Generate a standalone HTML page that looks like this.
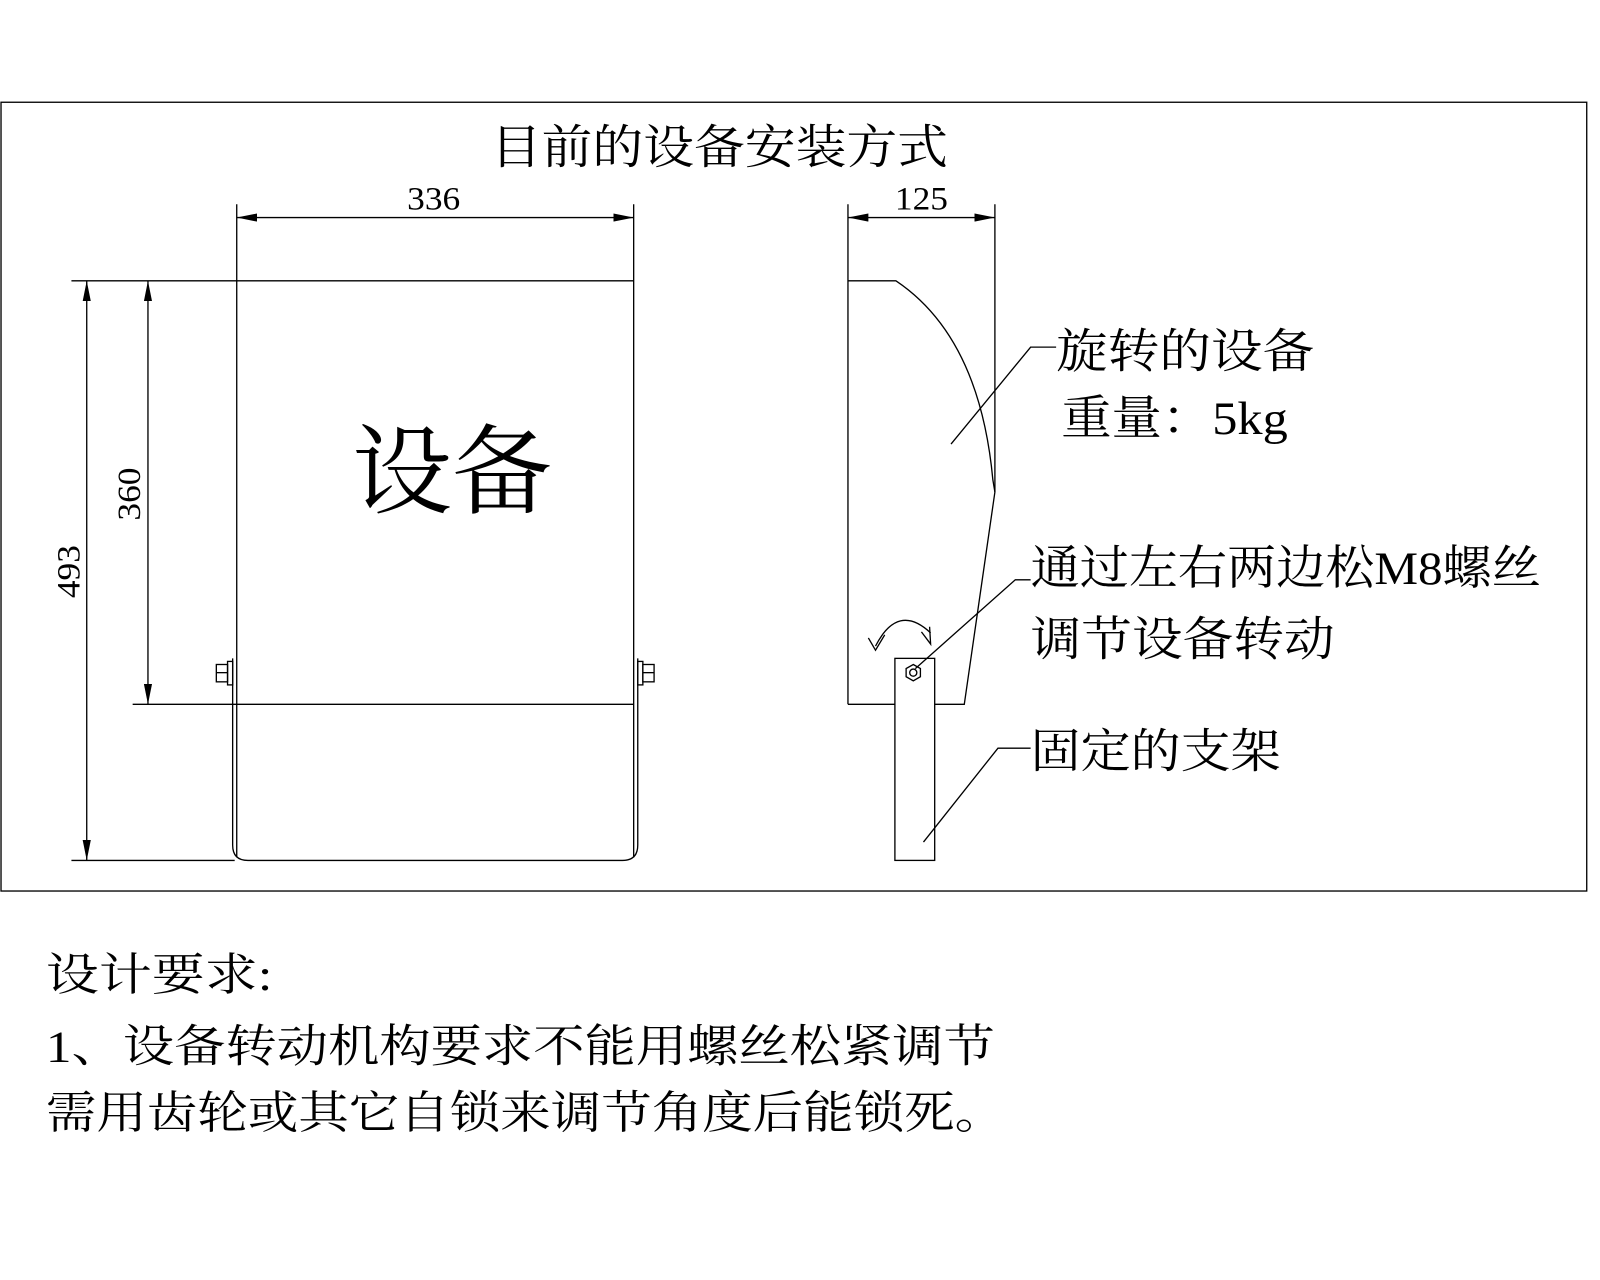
<!DOCTYPE html>
<html><head><meta charset="utf-8"><style>
html,body{margin:0;padding:0;background:#fff;}
svg{display:block;}
text{font-family:"Liberation Serif","Noto Serif CJK SC",serif;fill:#000;}
</style></head><body>
<svg width="1600" height="1280" viewBox="0 0 1568 1254" xmlns="http://www.w3.org/2000/svg">
<defs>
<marker id="a" viewBox="0 0 20 8" refX="20" refY="4" markerWidth="20" markerHeight="8" markerUnits="userSpaceOnUse" orient="auto-start-reverse"><path d="M0,0 L20,4 L0,8 z" fill="#000"/></marker>
</defs>
<g fill="none" stroke="#000" stroke-width="1.3">
<rect x="1" y="100" width="1554" height="773"/>
<!-- front view -->
<line x1="70" y1="275" x2="621" y2="275"/>
<line x1="232" y1="200" x2="232" y2="840"/>
<line x1="621" y1="200" x2="621" y2="840"/>
<path d="M228,645 V828 Q228,843 243,843 H610 Q625,843 625,828 V645"/>
<line x1="130" y1="690" x2="621" y2="690"/>
<line x1="70" y1="843" x2="230" y2="843"/>
<line x1="232" y1="213" x2="621" y2="213" marker-start="url(#a)" marker-end="url(#a)"/>
<line x1="145" y1="275" x2="145" y2="690" marker-start="url(#a)" marker-end="url(#a)"/>
<line x1="85" y1="275" x2="85" y2="843" marker-start="url(#a)" marker-end="url(#a)"/>
<!-- bolts -->
<rect x="223" y="648" width="5" height="23"/><rect x="212" y="651" width="11" height="17"/><line x1="212" y1="659" x2="223" y2="659"/>
<rect x="625" y="648" width="5" height="23"/><rect x="630" y="651" width="11" height="17"/><line x1="630" y1="659" x2="641" y2="659"/>
<!-- side view -->
<line x1="831" y1="200" x2="831" y2="690"/>
<line x1="975" y1="200" x2="975" y2="482"/>
<line x1="831" y1="213" x2="975" y2="213" marker-start="url(#a)" marker-end="url(#a)"/>
<path d="M831,275 H878 Q960,330 973,470 L975,482 L945,690 H831"/>
<rect x="877" y="645" width="39" height="198" fill="#fff"/>
<polygon points="895,651 902,655 902,663 895,667 888,663 888,655"/>
<circle cx="895" cy="659" r="3.5"/>
<path d="M858,633 Q880,590 912,620"/>
<path d="M851,625 L858,637 L867,622"/><path d="M903,619 L912,631 L911,614"/>
<!-- leaders -->
<polyline points="932,435 1010,340 1035,340"/>
<polyline points="897,655 995,568 1010,568"/>
<polyline points="905,825 978,733 1010,733"/>
</g>
<text x="705" y="160" font-size="46" text-anchor="middle" textLength="448" lengthAdjust="spacingAndGlyphs">目前的设备安装方式</text>
<text x="425" y="205" font-size="32" text-anchor="middle" textLength="52" lengthAdjust="spacingAndGlyphs">336</text>
<text x="903" y="205" font-size="32" text-anchor="middle" textLength="52" lengthAdjust="spacingAndGlyphs">125</text>
<text transform="translate(137,484) rotate(-90)" font-size="32" text-anchor="middle" textLength="52" lengthAdjust="spacingAndGlyphs">360</text>
<text transform="translate(78,560) rotate(-90)" font-size="32" text-anchor="middle" textLength="52" lengthAdjust="spacingAndGlyphs">493</text>
<text x="443" y="495" font-size="96" text-anchor="middle" textLength="196" lengthAdjust="spacingAndGlyphs">设备</text>
<text x="1035" y="360" font-size="46" textLength="253" lengthAdjust="spacingAndGlyphs">旋转的设备</text>
<text x="1040" y="425" font-size="46" textLength="222" lengthAdjust="spacingAndGlyphs">重量：5kg</text>
<text x="1010" y="572" font-size="46" textLength="500" lengthAdjust="spacingAndGlyphs">通过左右两边松M8螺丝</text>
<text x="1010" y="642" font-size="46" textLength="298" lengthAdjust="spacingAndGlyphs">调节设备转动</text>
<text x="1010" y="752" font-size="46" textLength="245" lengthAdjust="spacingAndGlyphs">固定的支架</text>
<text x="45" y="970" font-size="44" textLength="222" lengthAdjust="spacingAndGlyphs">设计要求:</text>
<text x="45" y="1040" font-size="44" textLength="930" lengthAdjust="spacingAndGlyphs">1、设备转动机构要求不能用螺丝松紧调节</text>
<text x="45" y="1105" font-size="44" textLength="940" lengthAdjust="spacingAndGlyphs">需用齿轮或其它自锁来调节角度后能锁死。</text>
</svg>
</body></html>
